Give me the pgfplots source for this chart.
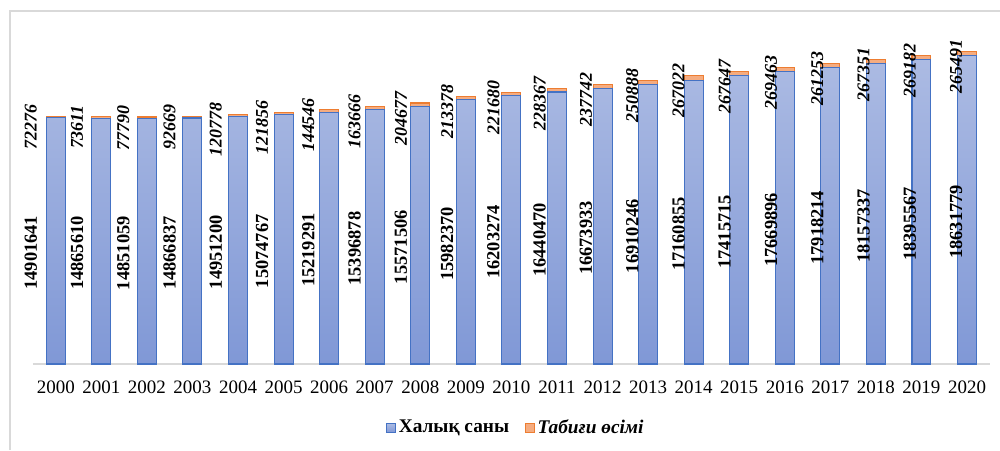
\documentclass[border=0pt]{standalone}
\usepackage{pgfplots}
\usepackage{pgfplotstable}
\pgfplotsset{compat=1.18}
\usepackage{fontspec}
\setmainfont{Liberation Serif}
\definecolor{bluetop}{RGB}{172,187,227}
\definecolor{bluebot}{RGB}{128,152,214}
\definecolor{blueedge}{RGB}{68,114,196}
\definecolor{orfill}{RGB}{245,172,128}
\definecolor{oredge}{RGB}{237,125,49}
\definecolor{gridc}{RGB}{217,217,217}
\pgfplotstableread{
x pop gr
0 14901641 72276
1 14865610 73611
2 14851059 77790
3 14866837 92669
4 14951200 120778
5 15074767 121856
6 15219291 144546
7 15396878 163666
8 15571506 204677
9 15982370 213378
10 16203274 221680
11 16440470 228367
12 16673933 237742
13 16910246 250888
14 17160855 267022
15 17415715 267647
16 17669896 269463
17 17918214 261253
18 18157337 267351
19 18395567 269182
20 18631779 265491
}\data
\begin{document}
\begin{tikzpicture}[x=0.02cm,y=0.02cm]
\useasboundingbox (0,0) rectangle (1000,450);
\draw[gridc, line width=0.6pt] (10,0) -- (10,439) -- (1000,439);
\pgfplotsset{
  common/.style={
    scale only axis, width=19.14cm, height=6.62cm,
    at={(0.66cm,1.72cm)}, anchor=south west,
    xmin=-0.5, xmax=20.5, ymin=0, ymax=20000000,
    enlargelimits=false, scaled y ticks=false,
  }
}
\begin{axis}[common,
  ybar stacked, bar width=0.38cm,
  axis x line*=bottom, axis y line=none,
  x axis line style={gridc, line width=0.75pt},
  ytick={0,2000000,...,20000000}, yticklabels={},
  ymajorgrids, grid style={gridc, line width=0.75pt},
  xtick={0,...,20},
  xticklabels={2000,2001,2002,2003,2004,2005,2006,2007,2008,2009,2010,2011,2012,2013,2014,2015,2016,2017,2018,2019,2020},
  xticklabel style={anchor=base, yshift=-0.58cm, font=\fontsize{10.8}{12}\selectfont},
  major tick length=0pt,
  legend columns=2,
  legend style={draw=none, fill=none, at={(0.505,-0.193)}, anchor=center,
    font=\fontsize{11}{13}\selectfont\bfseries,
    /tikz/every even column/.append style={column sep=0.26cm},
    nodes={inner xsep=1.5pt}},
  legend image code/.code={\draw[#1] (0cm,-0.09cm) rectangle (0.18cm,0.09cm);},
]
\addplot[draw=blueedge, line width=0.6pt, top color=bluetop, bottom color=bluebot] table[x=x, y=pop] {\data};
\addlegendentry{Халық саны}
\addplot[draw=oredge, line width=0.6pt, fill=orfill] table[x=x, y=gr] {\data};
\addlegendentry{\textit{Табиғи өсімі}}
\end{axis}
\begin{axis}[common, hide axis, clip=false]
\addplot[only marks, mark=none, nodes near coords, point meta=explicit symbolic,
  every node near coord/.append style={rotate=90, anchor=center, inner sep=0pt,
    font=\fontsize{10.5}{12}\selectfont\bfseries, text=black}]
  table[x expr=\thisrow{x}-(25-0.7*\thisrow{x})/45.6, y expr=\thisrow{pop}/2-725000, meta=pop] {\data};
\addplot[only marks, mark=none, nodes near coords, point meta=explicit symbolic,
  every node near coord/.append style={rotate=90, anchor=east, inner sep=0pt,
    font=\fontsize{10.2}{12}\selectfont\bfseries\itshape, text=black}]
  table[x expr=\thisrow{x}-(25-0.7*\thisrow{x})/45.6, y expr=\thisrow{pop}+\thisrow{gr}+725000, meta=gr] {\data};
\end{axis}
\end{tikzpicture}
\end{document}
